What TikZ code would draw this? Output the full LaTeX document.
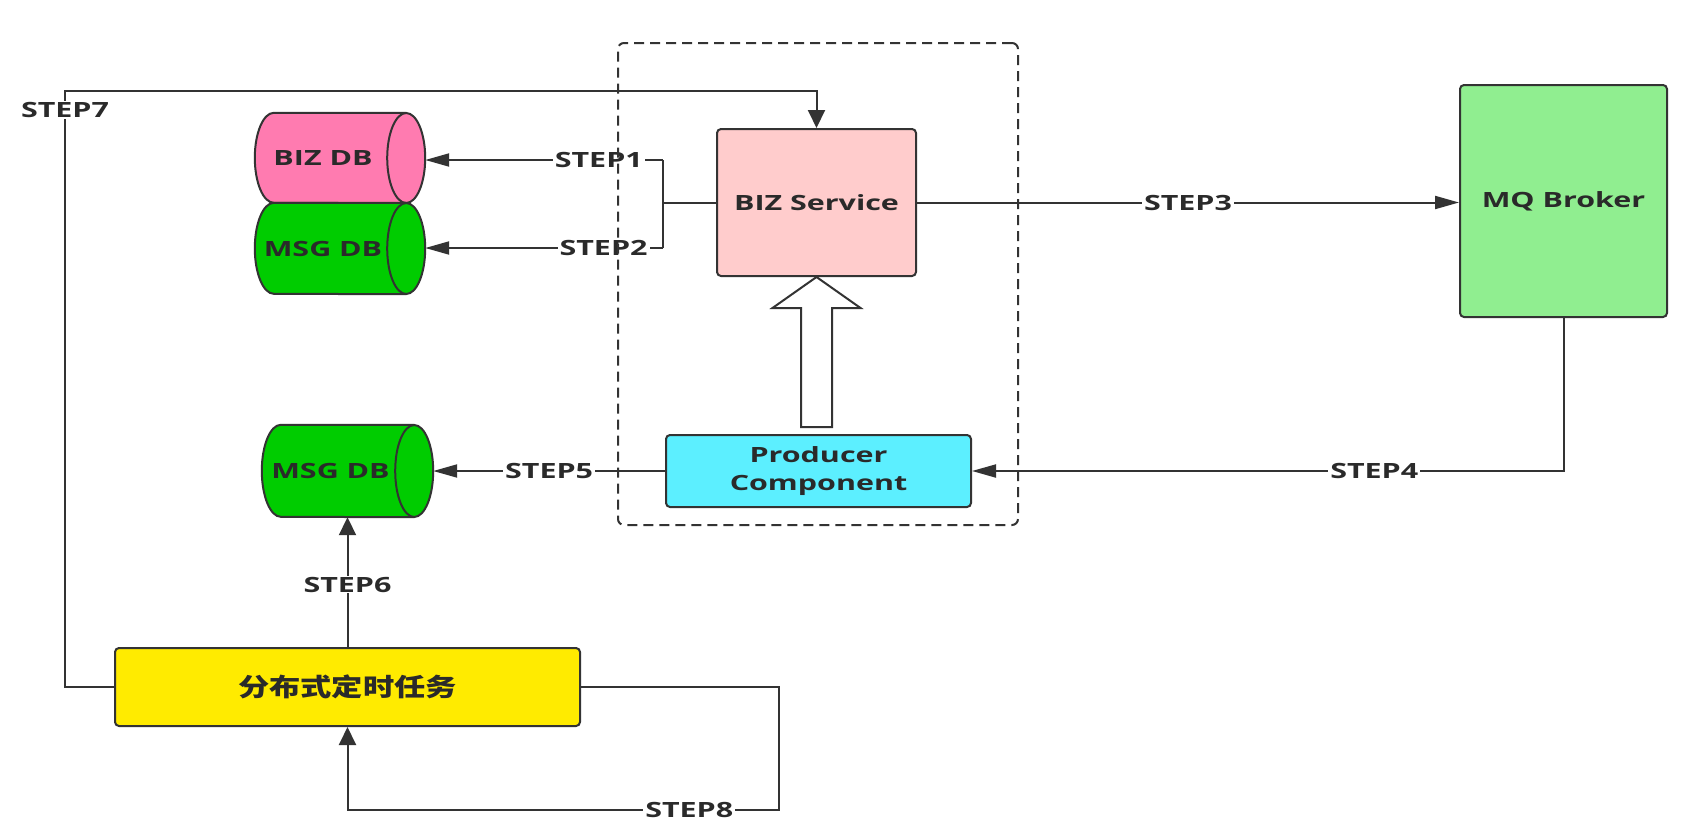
\documentclass[tikz,border=0pt]{standalone}
\usepackage{fontspec}
\setmainfont{Open Sans}[FakeStretch=1.45]
\newfontfamily\cjk{Noto Sans CJK SC}[FakeStretch=1.25]
\usetikzlibrary{arrows.meta,calc}
\definecolor{ln}{HTML}{333333}
\definecolor{txt}{HTML}{2A2A2A}
\definecolor{bizdbc}{HTML}{FF7BB0}
\definecolor{msgdbc}{HTML}{00CC00}
\definecolor{bizsvcc}{HTML}{FFCCCC}
\definecolor{mqc}{HTML}{90EE90}
\definecolor{prodc}{HTML}{5CEFFF}
\definecolor{jobc}{HTML}{FFEB00}
\tikzset{
  harrow/.tip={Triangle[length=24pt,width=13pt]},
  varrow/.tip={Triangle[length=18pt,width=17pt]},
  box/.style={draw=ln, line width=2pt, rounded corners=4pt, inner sep=0pt, text=txt,
    font=\bfseries\fontsize{21}{28}\selectfont, align=center},
  conn/.style={draw=ln, line width=2pt},
  lbl/.style={fill=white, text=txt, font=\bfseries\fontsize{21}{25}\selectfont, inner xsep=2pt, inner ysep=1pt},
  dbtext/.style={text=txt, font=\bfseries\fontsize{21}{25}\selectfont},
  dbline/.style={draw=ln, line width=2pt},
}
\newcommand\dbcyl[7]{%
  \node[name=#1, minimum width=#4pt, minimum height=#5pt, inner sep=0pt] at (#2,-#3) {};
  \fill[#6] ($(#1.north west)+(19,0)$) arc[start angle=90,end angle=270,x radius=19pt,y radius=#5pt/2]
     -- ($(#1.south east)+(-19,0)$) arc[start angle=-90,end angle=90,x radius=19pt,y radius=#5pt/2] -- cycle;
  \draw[dbline] ($(#1.north east)+(-19,0)$) -- ($(#1.north west)+(19,0)$)
     arc[start angle=90,end angle=270,x radius=19pt,y radius=#5pt/2] -- ($(#1.south east)+(-19,0)$);
  \draw[dbline, fill=#6] ($(#1.east)+(-19,0)$) ellipse[x radius=19pt, y radius=#5pt/2];
  \node[dbtext] at ($(#1.center)+(-17,0)$) {#7};
}
\begin{document}
\begin{tikzpicture}[x=1pt,y=1pt]
\useasboundingbox (0,0) rectangle (1702,-825);
\fill[white] (0,0) rectangle (1702,-825);

\dbcyl{bizdb}{340}{158}{170}{90}{bizdbc}{BIZ DB}
\dbcyl{msgdbA}{340}{248.5}{170}{91}{msgdbc}{MSG DB}
\dbcyl{msgdbB}{347.5}{471}{171}{92}{msgdbc}{MSG DB}

\node[box, fill=bizsvcc, minimum width=199, minimum height=147] (bizsvc) at (816.5,-202.5) {BIZ Service};
\node[box, fill=mqc, minimum width=207, minimum height=232] (mq) at (1563.5,-201) {MQ Broker};
\node[box, fill=prodc, minimum width=305, minimum height=72] (prod) at (818.5,-471) {Producer\\Component};
\node[box, fill=jobc, minimum width=465, minimum height=78, font=\cjk\bfseries\fontsize{25}{30}\selectfont] (job) at (347.5,-687) {分布式定时任务};

\coordinate (brT) at (663,-160);
\coordinate (brB) at (663,-248);
\coordinate (brM) at (663,-202.5);
\coordinate (s7) at (65,-91);
\coordinate (s8) at (779,-810);

\draw[conn] (bizsvc.west) -- (brM);
\draw[conn] (brT) -- (brB);
\draw[conn,-harrow] (brT) -- node[lbl,pos=0.27]{STEP1} (brT -| bizdb.east);
\draw[conn,-harrow] (brB) -- node[lbl,pos=0.25]{STEP2} (brB -| msgdbA.east);
\draw[conn,-harrow] (bizsvc.east) -- node[lbl]{STEP3} (bizsvc.east -| mq.west);
\draw[conn,-harrow] (mq.south) |- node[lbl,pos=0.66]{STEP4} (prod.east);
\draw[conn,-harrow] (prod.west) -- node[lbl]{STEP5} (prod.west -| msgdbB.east);
\draw[conn,-varrow] (job.north) -- node[lbl,pos=0.48]{STEP6} (msgdbB.south);
\draw[conn,-varrow] (job.west) -| node[lbl,pos=0.984]{STEP7} (s7) -| (bizsvc.north);
\draw[conn,-varrow] (job.east) -| (s8) -| node[lbl,pos=0.104]{STEP8} (job.south);

\draw[ln, line width=2pt, fill=white, line join=miter]
  ($(bizsvc.south |- prod.north)+(-15.5,7)$) -- ($(bizsvc.south)+(-15.5,-31)$)
  -- ($(bizsvc.south)+(-44,-31)$) -- (bizsvc.south) -- ($(bizsvc.south)+(44,-31)$)
  -- ($(bizsvc.south)+(15.5,-31)$) -- ($(bizsvc.south |- prod.north)+(15.5,7)$) -- cycle;

\node[draw=ln, line width=2pt, dash pattern=on 10pt off 6pt, rounded corners=6pt,
  minimum width=400, minimum height=482, inner sep=0pt] (grp) at (818,-284) {};
\end{tikzpicture}
\end{document}
